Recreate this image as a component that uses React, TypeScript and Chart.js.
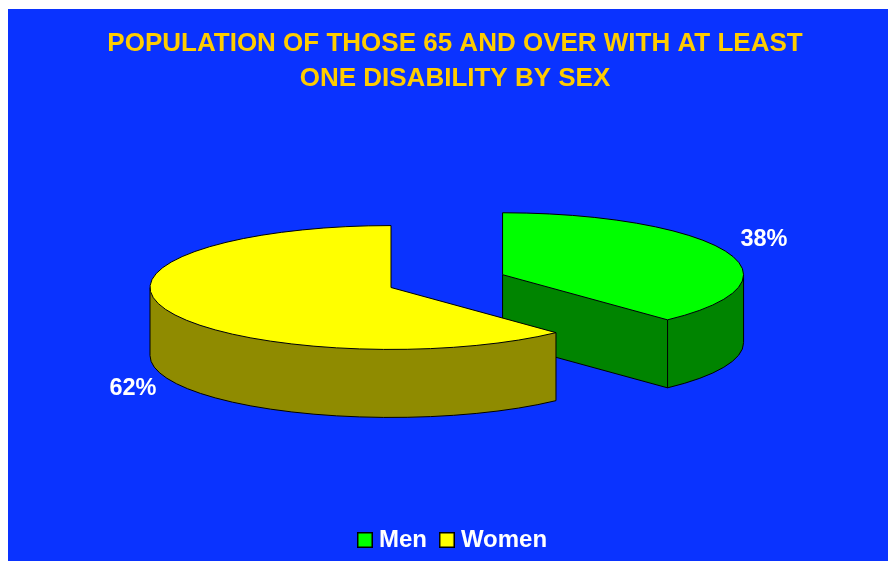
import React, { useEffect, useRef } from "react";
import { Chart, registerables } from "chart.js";

Chart.register(...registerables);

const categories = ["Men", "Women"];
const shares = [38, 62];
const topColors = ["#00FF00", "#FFFF00"];
const wallColors = ["#008400", "#8F8B00"];
const explode = [120, 0];
const titleLines = [
  "POPULATION OF THOSE 65 AND OVER WITH AT LEAST",
  "ONE DISABILITY BY SEX",
];

const CANVAS_W = 880;
const CANVAS_H = 552;
const BLUE = "#0A33FF";
const FONT = "'Liberation Sans', Arial, sans-serif";

// Projection of the flat pie onto a tilted plane, in canvas pixels.
const PIE_X = 383;
const PIE_Y = 278.5;
const SQUASH = 0.257;
const EXPLODE_LIFT = 0.29;
const DEPTH = 68;
const RADIUS = 241;

// Where each percentage sits, measured from the pie's projected centre.
const labelDx = [373, -258];
const labelDy = [-47.5, 101.5];

function legendSwatch(fill: string) {
  const c = document.createElement("canvas");
  c.width = 16;
  c.height = 16;
  const g = c.getContext("2d")!;
  g.fillStyle = "#000";
  g.fillRect(0, 0, 16, 16);
  g.fillStyle = fill;
  g.fillRect(1.5, 1.5, 13, 13);
  return c;
}

// Projected apex of a slice, after it has been pulled out along its mid angle.
function apexOf(arc: any, i: number) {
  const mid = (arc.startAngle + arc.endAngle) / 2;
  return {
    x: PIE_X + Math.cos(mid) * explode[i],
    y: PIE_Y + Math.sin(mid) * explode[i] * EXPLODE_LIFT,
  };
}

function rimPoint(apex: { x: number; y: number }, r: number, a: number, drop = 0) {
  return { x: apex.x + Math.cos(a) * r, y: apex.y + drop + Math.sin(a) * r * SQUASH };
}

function drawWall(ctx: CanvasRenderingContext2D, arc: any, i: number) {
  const apex = apexOf(arc, i);
  const r = arc.outerRadius;
  const ry = r * SQUASH;
  const s = Math.max(arc.startAngle, 0);
  const e = Math.min(arc.endAngle, Math.PI);
  const frontHasApex = !(arc.startAngle < Math.PI / 2 && arc.endAngle > Math.PI / 2);

  ctx.fillStyle = wallColors[i];
  ctx.strokeStyle = "#000";
  ctx.lineWidth = 1;

  // Curved outer wall
  ctx.beginPath();
  ctx.ellipse(apex.x, apex.y + DEPTH, r, ry, 0, s, e);
  ctx.ellipse(apex.x, apex.y, r, ry, 0, e, s, true);
  ctx.closePath();
  ctx.fill();

  if (frontHasApex) {
    // Flat cut faces that turn towards the viewer
    [arc.startAngle, arc.endAngle].forEach((a: number) => {
      const p = rimPoint(apex, r, a);
      ctx.beginPath();
      ctx.moveTo(apex.x, apex.y);
      ctx.lineTo(p.x, p.y);
      ctx.lineTo(p.x, p.y + DEPTH);
      ctx.lineTo(apex.x, apex.y + DEPTH);
      ctx.closePath();
      ctx.fill();
    });
  }

  // Lower outline
  ctx.beginPath();
  ctx.ellipse(apex.x, apex.y + DEPTH, r, ry, 0, s, e);
  if (frontHasApex) {
    ctx.lineTo(apex.x, apex.y + DEPTH);
    ctx.lineTo(apex.x, apex.y);
  }
  ctx.stroke();

  // Vertical edges
  [rimPoint(apex, r, s), rimPoint(apex, r, e)].forEach((p) => {
    ctx.beginPath();
    ctx.moveTo(p.x, p.y);
    ctx.lineTo(p.x, p.y + DEPTH);
    ctx.stroke();
  });
}

function outlineTop(ctx: CanvasRenderingContext2D, arc: any, i: number) {
  const apex = apexOf(arc, i);
  const r = arc.outerRadius;
  ctx.beginPath();
  ctx.moveTo(apex.x, apex.y);
  ctx.ellipse(apex.x, apex.y, r, r * SQUASH, 0, arc.startAngle, arc.endAngle);
  ctx.closePath();
  ctx.strokeStyle = "#000";
  ctx.lineWidth = 1;
  ctx.stroke();
}

const tiltedPie = {
  id: "tiltedPie",
  // Replaces the default flat drawing of the arcs; returning false skips it.
  beforeDatasetsDraw(chart: any) {
    const ctx: CanvasRenderingContext2D = chart.ctx;
    const arcs = chart.getDatasetMeta(0).data;
    ctx.save();
    arcs.forEach((arc: any, i: number) => drawWall(ctx, arc, i));
    arcs.forEach((arc: any, i: number) => {
      const apex = apexOf(arc, i);
      ctx.save();
      ctx.translate(apex.x, apex.y);
      ctx.scale(1, SQUASH);
      ctx.translate(-arc.x, -arc.y);
      arc.draw(ctx);
      ctx.restore();
    });
    arcs.forEach((arc: any, i: number) => outlineTop(ctx, arc, i));
    ctx.fillStyle = "#FFFFFF";
    ctx.font = `bold 23.5px ${FONT}`;
    ctx.textAlign = "center";
    ctx.textBaseline = "middle";
    shares.forEach((s, i) => {
      ctx.fillText(`${s}%`, PIE_X + labelDx[i], PIE_Y + labelDy[i]);
    });
    ctx.restore();
    return false;
  },
};

export default function App() {
  const ref = useRef<HTMLCanvasElement>(null);

  useEffect(() => {
    // The panel runs to the window's right and bottom edges.
    document.body.style.margin = "8px 0 0 8px";
    const chart = new Chart(ref.current!, {
      type: "pie",
      data: {
        labels: categories,
        datasets: [
          {
            data: shares,
            backgroundColor: topColors,
            borderWidth: 0,
          },
        ],
      },
      options: {
        responsive: false,
        animation: false,
        radius: RADIUS,
        rotation: 0,
        layout: { padding: { left: 14, right: 0, top: 17, bottom: -1 } },
        plugins: {
          tooltip: { enabled: false },
          title: {
            display: true,
            text: titleLines,
            color: "#FFCC00",
            font: { family: FONT, size: 26, weight: "bold", lineHeight: 1.346 },
            padding: { top: 0, bottom: 0 },
          },
          legend: {
            position: "bottom",
            labels: {
              color: "#FFFFFF",
              font: { family: FONT, size: 24, weight: "bold" },
              usePointStyle: true,
              pointStyleWidth: 4,
              padding: 18,
              generateLabels: () =>
                categories.map((text, i) => ({
                  text,
                  fontColor: "#FFFFFF",
                  pointStyle: legendSwatch(topColors[i]),
                  lineWidth: 0,
                  hidden: false,
                  index: i,
                })),
            },
          },
        },
      } as any,
      plugins: [tiltedPie],
    });
    return () => chart.destroy();
  }, []);

  return (
    <div style={{ paddingTop: 1 }}>
      <canvas
        ref={ref}
        width={CANVAS_W}
        height={CANVAS_H}
        style={{ display: "block", background: BLUE }}
      />
    </div>
  );
}
